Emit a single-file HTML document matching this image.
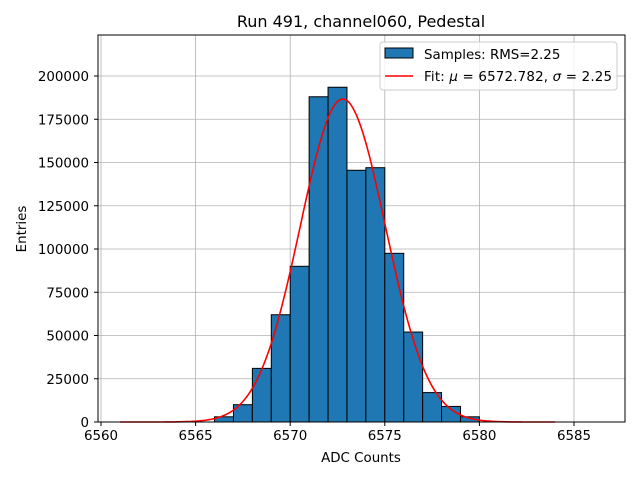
<!DOCTYPE html>
<html><head><meta charset="utf-8"><style>
body{margin:0;background:#fff}
svg text{font-family:"DejaVu Sans","Liberation Sans",sans-serif;fill:#000}
</style></head><body>
<svg id="c" width="640" height="480" xmlns="http://www.w3.org/2000/svg">
<rect width="640" height="480" fill="#fff"/>
<text x="361" y="27" font-size="16" text-anchor="middle">Run 491, channel060, Pedestal</text>
<g id="grid"></g><g id="bars"></g><g id="fit"></g><g id="axes"></g>
<text x="361" y="462" font-size="13.4" text-anchor="middle">ADC Counts</text>
<text x="26" y="229" font-size="13.4" text-anchor="middle" transform="rotate(-90 26 229)">Entries</text>
<g>
<rect x="380" y="42" width="237" height="48" fill="#fff" fill-opacity="0.8" stroke="#ccc" rx="3"/>
<rect x="385" y="48" width="28" height="10" fill="#1f77b4" stroke="#000"/>
<text x="424" y="59" font-size="13.4">Samples: RMS=2.25</text>
<line x1="385" y1="76" x2="413" y2="76" stroke="red" stroke-width="1.6"/>
<text x="424" y="81" font-size="13.4" textLength="188">Fit: <tspan font-style="italic">μ</tspan> = 6572.782, <tspan font-style="italic">σ</tspan> = 2.25</text>
</g>
</svg>
<script>
const binStarts=[6566,6567,6568,6569,6570,6571,6572,6573,6574,6575,6576,6577,6578,6579];
const counts=[3000,10000,31000,62000,90000,188000,193500,145500,147000,97500,52000,17000,9000,3000];
const fitMu=6572.782, fitSigma=2.25, fitAmp=186700;
const xTicks=[6560,6565,6570,6575,6580,6585];
const yTicks=[0,25000,50000,75000,100000,125000,150000,175000,200000];
const L=98,R=625,T=35,B=422;
const X=v=>101+(v-6560)*18.92;
const Y=v=>422-v*0.00173;
const NS="http://www.w3.org/2000/svg";
function mk(p,t,a){const e=document.createElementNS(NS,t);for(const k in a)e.setAttribute(k,a[k]);document.getElementById(p).appendChild(e);return e;}
xTicks.forEach(v=>{
const g=mk('grid','line',{x1:X(v),x2:X(v),y1:T,y2:B,stroke:'#b0b0b0','stroke-width':0.8});


const t=mk('axes','line',{x1:X(v),x2:X(v),y1:B,y2:B+4,stroke:'#000'});


const l=mk('axes','text',{x:X(v),y:B+18,'font-size':13.4,'text-anchor':'middle'});l.textContent=v;


});
yTicks.forEach(v=>{
const g=mk('grid','line',{x1:L,x2:R,y1:Y(v),y2:Y(v),stroke:'#b0b0b0','stroke-width':0.8});


const t=mk('axes','line',{x1:L-4,x2:L,y1:Y(v),y2:Y(v),stroke:'#000'});


const l=mk('axes','text',{x:L-9,y:Y(v)+5,'font-size':13.4,'text-anchor':'end'});l.textContent=v;


});
binStarts.forEach((s,i)=>{
const r=mk('bars','rect',{x:X(s),y:Y(counts[i]),width:X(s+1)-X(s),height:Y(0)-Y(counts[i]),fill:'#1f77b4',stroke:'#000','stroke-width':1});


});
let d='';for(let i=0;i<=230;i++){const x=6561+i*0.1;const y=fitAmp*Math.exp(-0.5*((x-fitMu)/fitSigma)**2);d+=(i?'L':'M')+X(x).toFixed(1)+','+Y(y).toFixed(1);}
const p=mk('fit','path',{d:d,fill:'none',stroke:'red','stroke-width':1.6});


const f=mk('axes','rect',{x:L,y:T,width:R-L,height:B-T,fill:'none',stroke:'#000','stroke-width':1});


</script>
</body></html>
